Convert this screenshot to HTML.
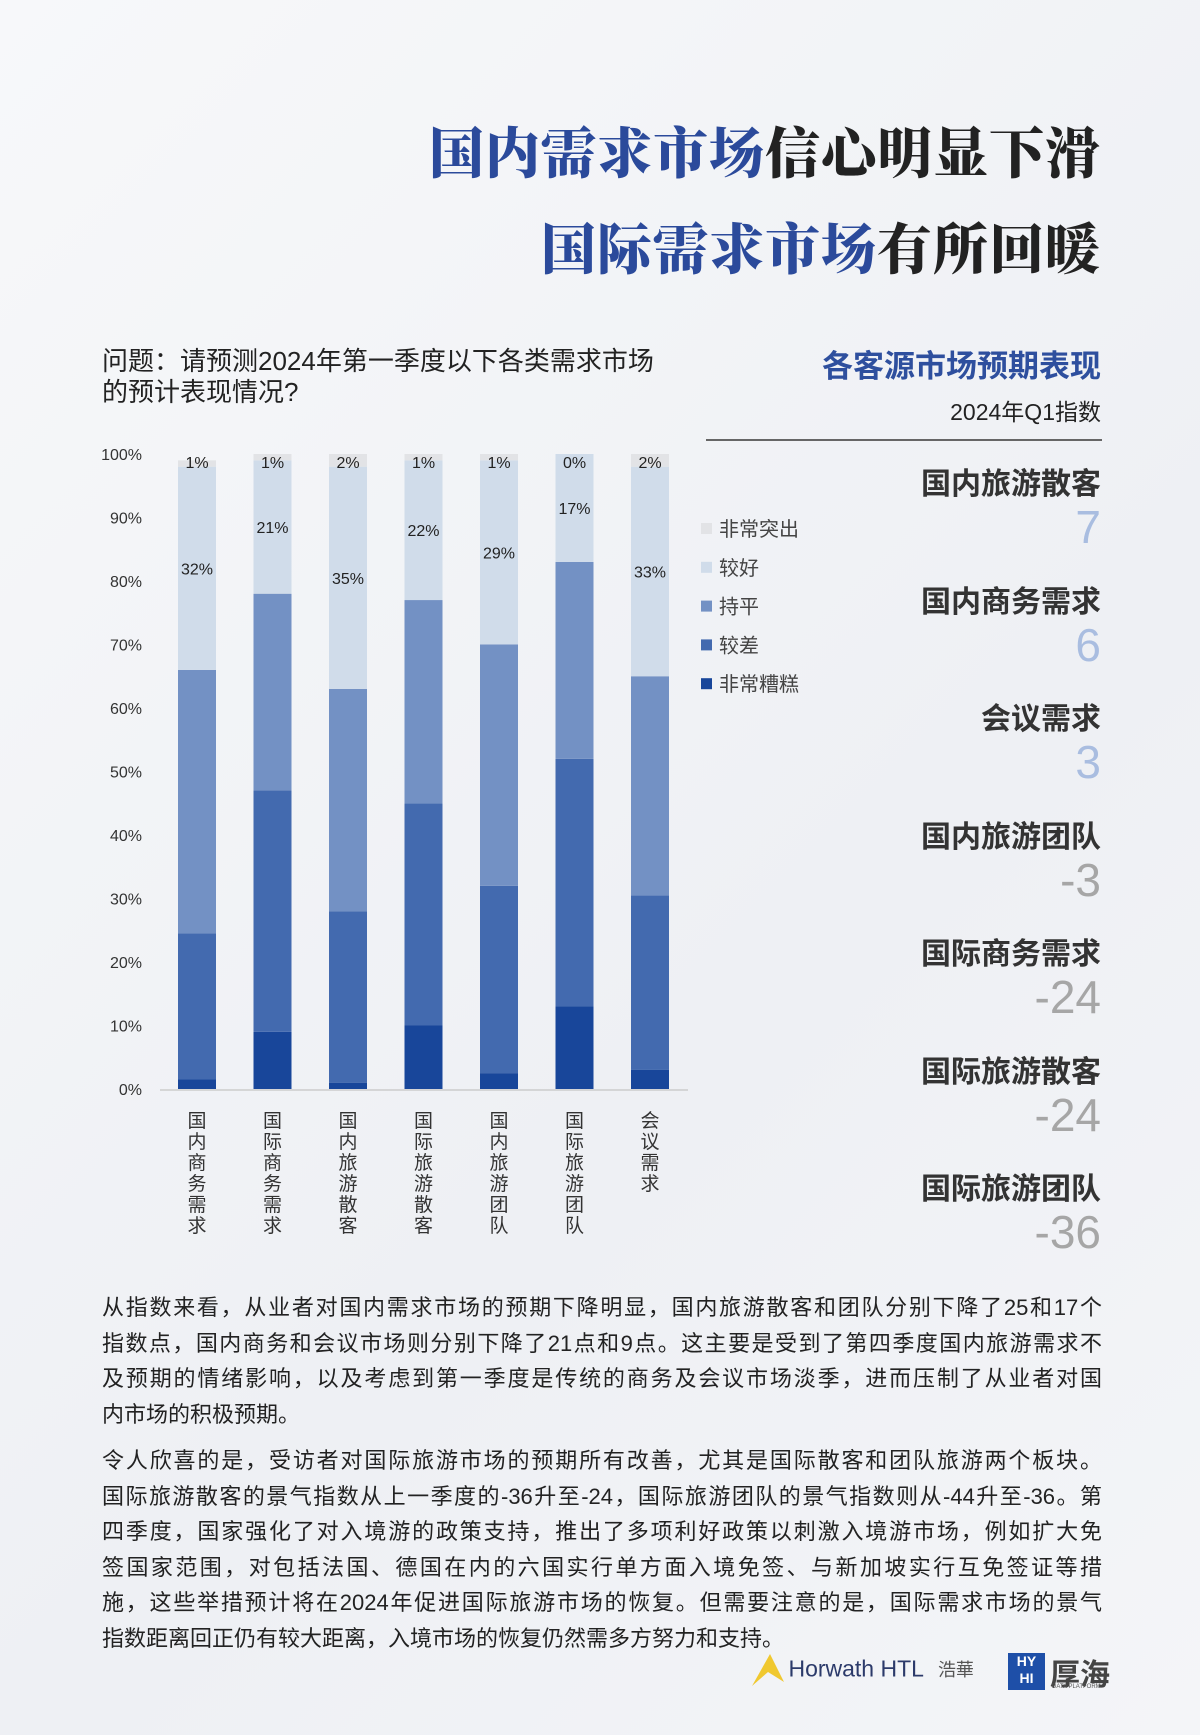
<!DOCTYPE html>
<html><head><meta charset="utf-8">
<style>
body{margin:0;width:1200px;height:1735px;overflow:hidden;background:linear-gradient(135deg,#f7f8fa,#eef0f4 60%,#f4f5f8);font-family:"Liberation Sans","Noto Sans CJK SC",sans-serif;color:#222;position:relative}
.a{position:absolute;white-space:nowrap}
.t{font-family:"Liberation Serif","Noto Serif CJK SC",serif;font-weight:900;font-size:55px;right:99px;letter-spacing:1px}
.bl{color:#2b4a9b}
.lab{right:99px;font-size:30px;font-weight:bold;color:#333}
.val{right:99px;font-size:46px;line-height:46px}
.pos{color:#a9bde0}.neg{color:#a6a6a6}
.p{left:102px;width:1000px;font-size:22px;line-height:35.5px;color:#222}
.p div{text-align:justify;text-align-last:justify;white-space:nowrap}
.p div.last{text-align-last:left}
</style></head><body>
<div class="a t" style="top:110px"><span class="bl">国内需求市场</span>信心明显下滑</div>
<div class="a t" style="top:206px"><span class="bl">国际需求市场</span>有所回暖</div>
<div class="a" style="left:102px;top:346px;font-size:26px;line-height:31px">问题：请预测2024年第一季度以下各类需求市场<br>的预计表现情况?</div>
<div class="a" style="right:99px;top:341px;font-size:31px;font-weight:bold;color:#2e4f9e">各客源市场预期表现</div>
<div class="a" style="right:99px;top:393px;font-size:23px;color:#222">2024年Q1指数</div>
<div class="a" style="left:706px;top:439px;width:396px;height:2px;background:#666"></div>
<div id="panel"></div>
<svg class="a" style="left:0;top:0" width="1200" height="1300" id="chart"></svg>
<div class="a p" style="top:1290px">
<div>从指数来看，从业者对国内需求市场的预期下降明显，国内旅游散客和团队分别下降了25和17个</div>
<div>指数点，国内商务和会议市场则分别下降了21点和9点。这主要是受到了第四季度国内旅游需求不</div>
<div>及预期的情绪影响，以及考虑到第一季度是传统的商务及会议市场淡季，进而压制了从业者对国</div>
<div class="last">内市场的积极预期。</div>
</div>
<div class="a p" style="top:1443px">
<div>令人欣喜的是，受访者对国际旅游市场的预期所有改善，尤其是国际散客和团队旅游两个板块。</div>
<div>国际旅游散客的景气指数从上一季度的-36升至-24，国际旅游团队的景气指数则从-44升至-36。第</div>
<div>四季度，国家强化了对入境游的政策支持，推出了多项利好政策以刺激入境游市场，例如扩大免</div>
<div>签国家范围，对包括法国、德国在内的六国实行单方面入境免签、与新加坡实行互免签证等措</div>
<div>施，这些举措预计将在2024年促进国际旅游市场的恢复。但需要注意的是，国际需求市场的景气</div>
<div class="last">指数距离回正仍有较大距离，入境市场的恢复仍然需多方努力和支持。</div>
</div>
<div class="a" style="left:750px;top:1652px">
<svg width="34" height="34" style="vertical-align:middle"><polygon points="2,34 20,2 34,30 18,20" fill="#f0c830"/></svg>
<span style="font-size:23px;color:#2c3a6a;vertical-align:middle">Horwath HTL</span><span style="font-size:18px;color:#555;margin-left:14px;vertical-align:middle">浩華</span></div>
<div class="a" style="left:1008px;top:1653px;width:37px;height:37px;background:#1e4fa8;color:#fff;font-size:14px;font-weight:bold;line-height:17px;text-align:center">HY<br>HI</div>
<div class="a" style="left:1050px;top:1650px;font-size:30px;font-weight:bold;color:#444">厚海</div>
<div class="a" style="left:1052px;top:1684px;font-size:6px;color:#555">DATA PLATFORM</div>
<script>
const panelLabels=["国内旅游散客","国内商务需求","会议需求","国内旅游团队","国际商务需求","国际旅游散客","国际旅游团队"];
const panelValues=[7,6,3,-3,-24,-24,-36];
const panel=document.getElementById('panel');
panelLabels.forEach((l,i)=>{
  const y=459+i*117.5;
  const a=document.createElement('div');a.className='a lab';a.style.top=y+'px';a.textContent=l;
  
  
  panel.appendChild(a);
  const v=document.createElement('div');v.className='a val '+(panelValues[i]>=0?'pos':'neg');v.style.top=(y+45)+'px';v.textContent=panelValues[i];
  
  
  panel.appendChild(v);
});

const categories=["国内商务需求","国际商务需求","国内旅游散客","国际旅游散客","国内旅游团队","国际旅游团队","会议需求"];
const seriesNames=["非常糟糕","较差","持平","较好","非常突出"];
const verybad=[1.5,9,1,10,2.5,13,3];
const bad=[23,38,27,35,29.5,39,27.5];
const neutral=[41.5,31,35,32,38,31,34.5];
const good=[32,21,35,22,29,17,33];
const excellent=[1,1,2,1,1,0,2];
const goodLabels=["32%","21%","35%","22%","29%","17%","33%"];
const excLabels=["1%","1%","2%","1%","1%","0%","2%"];
const yTicks=[0,10,20,30,40,50,60,70,80,90,100];
const colors=["#18469a","#436aaf","#7391c4","#d0dcea","#e2e3e6"];
const series=[verybad,bad,neutral,good,excellent];
const svg=document.getElementById('chart');const NS='http://www.w3.org/2000/svg';
const y0=1089,y1=454;
const yS=v=>y0-(y0-y1)*v/100;
const xS=i=>197+i*75.5;
const bw=38;
function mk(t,at){const e=document.createElementNS(NS,t);for(const k in at)e.setAttribute(k,at[k]);svg.appendChild(e);return e;}
yTicks.forEach(t=>{const e=mk('text',{x:142,y:yS(t)+6,'text-anchor':'end','font-size':16,fill:'#333'});e.textContent=t+'%';

});
categories.forEach((c,i)=>{
  let acc=0;
  series.forEach((s,k)=>{
    const v=s[i];const top=Math.min(acc+v,100);
    const r=mk('rect',{x:xS(i)-bw/2,y:yS(top),width:bw,height:Math.max(0,yS(acc)-yS(top)),fill:colors[k]});
    
    
    if(k==3){const e=mk('text',{x:xS(i),y:yS(acc+v/2)+6,'text-anchor':'middle','font-size':16,fill:'#222'});e.textContent=goodLabels[i];
    
    }
    acc+=v;
  });
  const e=mk('text',{x:xS(i),y:yS(100)+14,'text-anchor':'middle','font-size':16,fill:'#222'});e.textContent=excLabels[i];
  
  
  [...c].forEach((ch,j)=>{const t=mk('text',{x:xS(i),y:1127+j*21,'text-anchor':'middle','font-size':19,fill:'#333'});t.textContent=ch;
  
  });
});
const ax=mk('line',{x1:160,x2:688,y1:y0+1,y2:y0+1,stroke:'#ccc','stroke-width':1.5});


const legendOrder=[4,3,2,1,0];
legendOrder.forEach((k,j)=>{
  const y=529+j*38.8;
  const r=mk('rect',{x:701,y:y-6,width:11,height:11,fill:colors[k]});
  
  
  const t=mk('text',{x:719,y:y+7,'font-size':20,fill:'#444'});t.textContent=seriesNames[k];
  
  
});
</script>
</body></html>
